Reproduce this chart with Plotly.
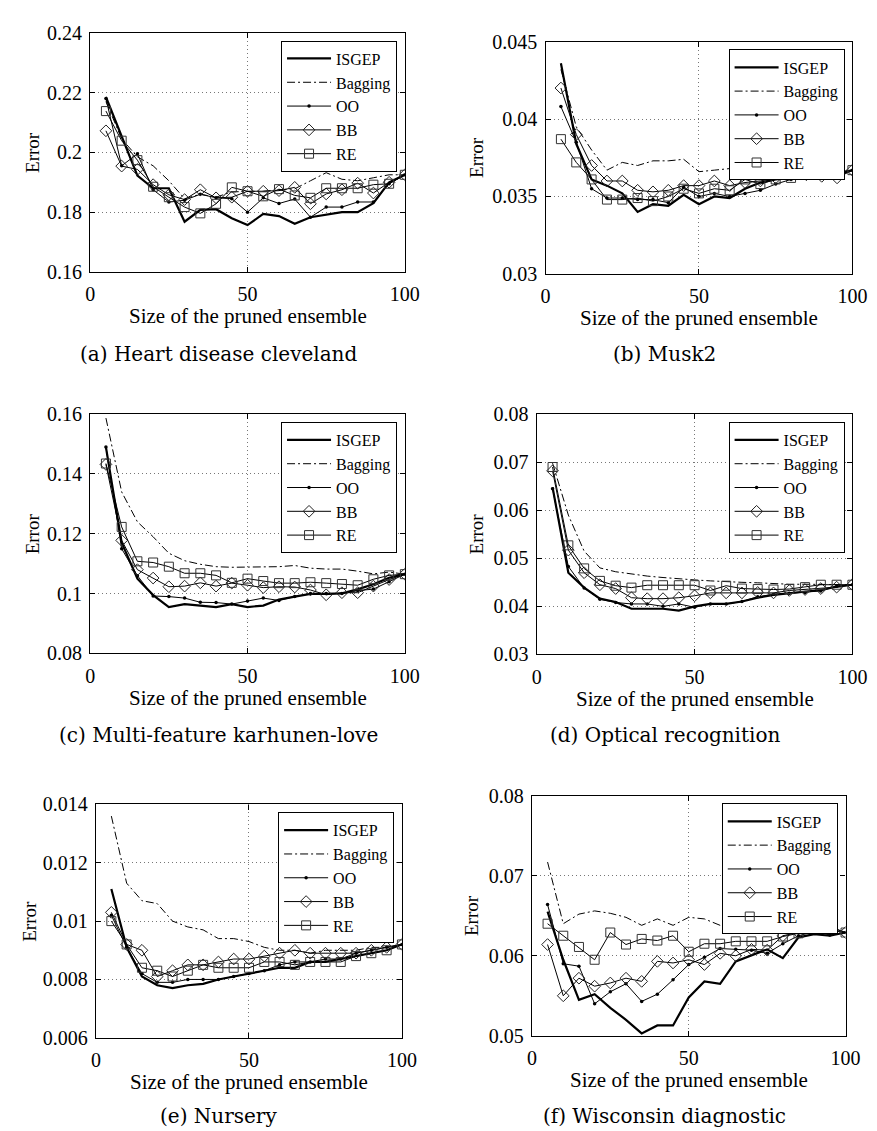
import plotly.graph_objects as go

# ---------------- data ----------------
x_size = [5, 10, 15, 20, 25, 30, 35, 40, 45, 50, 55, 60, 65, 70, 75, 80, 85, 90, 95, 100]
series_names = ["ISGEP", "Bagging", "OO", "BB", "RE"]

a_isgep = [0.2185, 0.2055, 0.1922, 0.188, 0.188, 0.1768, 0.1808, 0.181, 0.178, 0.1757, 0.1794, 0.1787, 0.1761, 0.1783, 0.1792, 0.180, 0.180, 0.183, 0.190, 0.1925]
a_bag = [0.217, 0.2045, 0.1985, 0.1955, 0.1905, 0.1845, 0.186, 0.185, 0.1868, 0.187, 0.187, 0.1875, 0.1878, 0.1905, 0.1932, 0.191, 0.1905, 0.1915, 0.1925, 0.1925]
a_oo = [0.218, 0.1955, 0.1995, 0.1875, 0.1834, 0.184, 0.186, 0.1848, 0.1845, 0.180, 0.1848, 0.1829, 0.1844, 0.1783, 0.1817, 0.1817, 0.1834, 0.1834, 0.1895, 0.1925]
a_bb = [0.2072, 0.1954, 0.1943, 0.1892, 0.1858, 0.1842, 0.1875, 0.1848, 0.185, 0.187, 0.187, 0.1872, 0.1883, 0.1828, 0.1861, 0.1875, 0.1897, 0.1864, 0.190, 0.1925]
a_re = [0.2138, 0.2039, 0.1974, 0.1885, 0.185, 0.1817, 0.1796, 0.1828, 0.1883, 0.187, 0.1853, 0.1877, 0.1856, 0.1848, 0.188, 0.188, 0.188, 0.1892, 0.1895, 0.1925]

b_isgep = [0.0436, 0.0384, 0.0361, 0.0357, 0.0352, 0.0340, 0.0345, 0.0344, 0.0351, 0.0345, 0.0350, 0.0349, 0.0355, 0.0359, 0.0361, 0.0362, 0.0363, 0.0364, 0.0364, 0.0367]
b_bag = [0.0432, 0.0395, 0.0380, 0.0367, 0.0372, 0.0370, 0.0373, 0.0373, 0.0374, 0.0366, 0.0367, 0.0368, 0.0367, 0.0365, 0.0368, 0.0365, 0.0367, 0.0367, 0.0366, 0.0367]
b_oo = [0.0408, 0.0385, 0.0355, 0.0349, 0.0349, 0.0348, 0.0348, 0.0346, 0.0356, 0.0350, 0.0352, 0.0350, 0.0352, 0.0354, 0.0358, 0.0361, 0.0362, 0.0363, 0.0364, 0.0367]
b_bb = [0.0420, 0.0390, 0.0370, 0.0360, 0.0360, 0.0354, 0.0353, 0.0354, 0.0357, 0.0357, 0.0360, 0.0357, 0.0359, 0.0360, 0.0362, 0.0364, 0.0364, 0.0363, 0.0362, 0.0367]
b_re = [0.0387, 0.0372, 0.0361, 0.0348, 0.0348, 0.0349, 0.0347, 0.0350, 0.0355, 0.0352, 0.0355, 0.0354, 0.0361, 0.0358, 0.0361, 0.0362, 0.0367, 0.0366, 0.0366, 0.0367]

c_isgep = [0.149, 0.117, 0.105, 0.0995, 0.0955, 0.0965, 0.096, 0.0955, 0.0965, 0.0955, 0.096, 0.098, 0.099, 0.0999, 0.0999, 0.1001, 0.1014, 0.1031, 0.1053, 0.1065]
c_bag = [0.1587, 0.134, 0.124, 0.119, 0.1135, 0.111, 0.1098, 0.109, 0.1088, 0.1088, 0.1088, 0.109, 0.1094, 0.1085, 0.1082, 0.1082, 0.1075, 0.1066, 0.1072, 0.1065]
c_oo = [0.149, 0.115, 0.106, 0.0992, 0.099, 0.0985, 0.0971, 0.097, 0.0965, 0.0975, 0.0985, 0.0977, 0.099, 0.100, 0.100, 0.100, 0.101, 0.1015, 0.104, 0.1065]
c_bb = [0.1432, 0.1178, 0.108, 0.1052, 0.1023, 0.1025, 0.1036, 0.1025, 0.1035, 0.1028, 0.102, 0.1023, 0.1022, 0.1012, 0.0996, 0.1003, 0.1003, 0.1025, 0.1047, 0.1065]
c_re = [0.1435, 0.1223, 0.1108, 0.1104, 0.109, 0.1068, 0.1068, 0.1061, 0.1036, 0.105, 0.1042, 0.1035, 0.1035, 0.1038, 0.1035, 0.1032, 0.1028, 0.1048, 0.1061, 0.1065]

d_isgep = [0.0648, 0.0470, 0.0439, 0.0416, 0.0409, 0.0395, 0.0395, 0.0395, 0.0391, 0.0400, 0.0405, 0.0405, 0.0410, 0.0418, 0.0424, 0.0427, 0.0431, 0.0434, 0.0441, 0.0445]
d_bag = [0.0698, 0.0590, 0.0515, 0.0480, 0.0472, 0.0467, 0.0463, 0.0460, 0.0457, 0.0455, 0.0453, 0.0451, 0.0450, 0.0449, 0.0447, 0.0446, 0.0446, 0.0446, 0.0445, 0.0445]
d_oo = [0.0645, 0.0483, 0.0438, 0.0415, 0.0408, 0.0405, 0.0405, 0.0400, 0.0405, 0.0398, 0.0405, 0.0405, 0.0410, 0.0420, 0.0425, 0.0427, 0.0429, 0.0432, 0.0442, 0.0445]
d_bb = [0.0682, 0.0517, 0.0470, 0.0445, 0.0437, 0.0418, 0.0416, 0.0416, 0.0418, 0.0422, 0.0428, 0.0428, 0.0428, 0.0429, 0.0428, 0.0433, 0.0435, 0.0437, 0.0440, 0.0445]
d_re = [0.0690, 0.0527, 0.0479, 0.0453, 0.0443, 0.0439, 0.0444, 0.0444, 0.0444, 0.0444, 0.0433, 0.0443, 0.0437, 0.0436, 0.0435, 0.0436, 0.0440, 0.0445, 0.0445, 0.0445]

e_isgep = [0.0111, 0.0091, 0.0081, 0.0078, 0.0077, 0.0078, 0.00785, 0.0080, 0.0081, 0.0082, 0.0083, 0.0084, 0.0084, 0.0086, 0.0086, 0.0087, 0.0088, 0.0089, 0.0090, 0.0092]
e_bag = [0.0136, 0.0113, 0.0107, 0.0106, 0.0100, 0.0098, 0.0097, 0.0094, 0.0094, 0.0093, 0.0091, 0.0090, 0.0090, 0.0089, 0.0090, 0.0090, 0.0090, 0.0091, 0.0091, 0.0092]
e_oo = [0.0102, 0.0091, 0.0082, 0.0079, 0.0079, 0.0080, 0.0080, 0.0080, 0.0081, 0.0082, 0.0083, 0.0085, 0.0086, 0.0086, 0.0087, 0.0087, 0.0089, 0.0090, 0.0091, 0.0092]
e_bb = [0.0103, 0.0092, 0.0090, 0.0081, 0.0083, 0.0085, 0.0085, 0.0086, 0.0087, 0.0087, 0.0088, 0.0089, 0.0090, 0.0089, 0.0089, 0.0089, 0.0089, 0.0090, 0.0091, 0.0092]
e_re = [0.0100, 0.0092, 0.0084, 0.0083, 0.0081, 0.0083, 0.0085, 0.0084, 0.0084, 0.0084, 0.0086, 0.0086, 0.0085, 0.0086, 0.0086, 0.0086, 0.0088, 0.0089, 0.0090, 0.0092]

f_isgep = [0.0655, 0.0595, 0.0545, 0.0552, 0.0535, 0.0520, 0.0503, 0.0513, 0.0513, 0.0548, 0.0568, 0.0565, 0.0593, 0.0601, 0.0608, 0.0597, 0.0623, 0.0627, 0.0625, 0.0629]
f_bag = [0.0717, 0.0640, 0.0652, 0.0656, 0.0653, 0.0648, 0.0638, 0.0646, 0.0638, 0.0648, 0.0646, 0.0638, 0.0636, 0.0643, 0.0638, 0.0632, 0.0633, 0.0634, 0.0632, 0.0629]
f_oo = [0.0664, 0.0590, 0.0587, 0.0540, 0.0555, 0.0565, 0.0543, 0.0552, 0.0570, 0.0589, 0.0598, 0.0609, 0.0608, 0.0607, 0.0603, 0.0615, 0.0625, 0.0630, 0.0626, 0.0629]
f_bb = [0.0614, 0.0550, 0.0572, 0.0562, 0.0566, 0.0572, 0.0568, 0.0593, 0.0591, 0.0595, 0.0589, 0.0603, 0.0600, 0.0608, 0.0607, 0.0625, 0.0629, 0.0636, 0.0636, 0.0629]
f_re = [0.0640, 0.0625, 0.0611, 0.0595, 0.0629, 0.0614, 0.0621, 0.0619, 0.0625, 0.0605, 0.0615, 0.0615, 0.0618, 0.0618, 0.0618, 0.0624, 0.0628, 0.0636, 0.0636, 0.0629]

x_ticks = [0, 50, 100]
a_yticks = [0.16, 0.18, 0.20, 0.22, 0.24]
a_ylabels = ["0.16", "0.18", "0.2", "0.22", "0.24"]
b_yticks = [0.030, 0.035, 0.040, 0.045]
b_ylabels = ["0.03", "0.035", "0.04", "0.045"]
c_yticks = [0.08, 0.10, 0.12, 0.14, 0.16]
c_ylabels = ["0.08", "0.1", "0.12", "0.14", "0.16"]
d_yticks = [0.03, 0.04, 0.05, 0.06, 0.07, 0.08]
d_ylabels = ["0.03", "0.04", "0.05", "0.06", "0.07", "0.08"]
e_yticks = [0.006, 0.008, 0.010, 0.012, 0.014]
e_ylabels = ["0.006", "0.008", "0.01", "0.012", "0.014"]
f_yticks = [0.05, 0.06, 0.07, 0.08]
f_ylabels = ["0.05", "0.06", "0.07", "0.08"]

captions = ["(a) Heart disease cleveland", "(b) Musk2", "(c) Multi-feature karhunen-love",
            "(d) Optical recognition", "(e) Nursery", "(f) Wisconsin diagnostic"]
x_title = "Size of the pruned ensemble"
y_title = "Error"

panel_data = [
    (a_isgep, a_bag, a_oo, a_bb, a_re, a_yticks, a_ylabels),
    (b_isgep, b_bag, b_oo, b_bb, b_re, b_yticks, b_ylabels),
    (c_isgep, c_bag, c_oo, c_bb, c_re, c_yticks, c_ylabels),
    (d_isgep, d_bag, d_oo, d_bb, d_re, d_yticks, d_ylabels),
    (e_isgep, e_bag, e_oo, e_bb, e_re, e_yticks, e_ylabels),
    (f_isgep, f_bag, f_oo, f_bb, f_re, f_yticks, f_ylabels),
]

# ---------------- layout (pixels) ----------------
W, H = 877, 1131
# axes box: left, right, top, bottom ; y-title x ; caption x
boxes = [
    (79, 401, 14, 258, 20, 210),
    (545, 859, 23, 260, 475, 667),
    (79, 401, 403, 647, 20, 210),
    (536, 859, 403, 648, 474, 667),
    (85, 398, 801, 1039, 16, 210),
    (531, 852, 792, 1037, 469, 667),
]
caption_y = [342, 342, 730, 730, 1119, 1119]

SERIF = "Liberation Serif, Times New Roman, Times, serif"
CAP_FONT = "DejaVu Serif, serif"

styles = [
    dict(mode="lines", line=dict(color="black", width=2.2)),
    dict(mode="lines", line=dict(color="black", width=1, dash="8px,3px,2px,3px")),
    dict(mode="lines+markers", line=dict(color="black", width=1),
         marker=dict(symbol="circle", size=3.5, color="black")),
    dict(mode="lines+markers", line=dict(color="black", width=1),
         marker=dict(symbol="diamond-open", size=9, color="#222", line=dict(width=1, color="#222"))),
    dict(mode="lines+markers", line=dict(color="black", width=1),
         marker=dict(symbol="square-open", size=9, color="#333", line=dict(width=1, color="#333"))),
]

fig = go.Figure()
layout = dict(width=W, height=H, margin=dict(l=0, r=0, t=0, b=0),
              paper_bgcolor="white", plot_bgcolor="white", showlegend=True,
              annotations=[])

def px(p):
    return p / W

def py(p):
    return 1 - p / H

for i, (pdata, box) in enumerate(zip(panel_data, boxes)):
    n = i + 1
    sfx = "" if n == 1 else str(n)
    L, R, T, B, ytx, capx = box
    yticks, ylabels = pdata[5], pdata[6]
    legname = "legend" + sfx
    for s, (name, yvals) in enumerate(zip(series_names, pdata[:5])):
        fig.add_trace(go.Scatter(x=x_size, y=yvals, name=name, xaxis="x" + sfx, yaxis="y" + sfx,
                                 legend=legname, **styles[s]))
    axis_common = dict(showline=True, linecolor="black", linewidth=1.4, mirror="ticks",
                       ticks="inside", ticklen=5, tickcolor="black", tickwidth=1,
                       showgrid=True, gridcolor="#777", griddash="1px,3px", gridwidth=1,
                       zeroline=False, tickfont=dict(family=SERIF, size=20, color="black"))
    layout["xaxis" + sfx] = dict(domain=[px(L), px(R)], anchor="y" + sfx, range=[0, 100],
                                 tickmode="array", tickvals=x_ticks,
                                 ticktext=[str(v) for v in x_ticks], ticklabelstandoff=4,
                                 **axis_common)
    layout["yaxis" + sfx] = dict(domain=[py(B), py(T)], anchor="x" + sfx,
                                 range=[yticks[0], yticks[-1]],
                                 tickmode="array", tickvals=yticks, ticktext=ylabels,
                                 ticklabelstandoff=3, **axis_common)
    layout[legname] = dict(x=px(R - 8), y=py(T + 8), xanchor="right", yanchor="top",
                           xref="paper", yref="paper",
                           bgcolor="white", bordercolor="black", borderwidth=1,
                           font=dict(family=SERIF, size=16, color="black"),
                           tracegroupgap=0, itemwidth=44)
    layout["annotations"] += [
        dict(text=x_title, xref="paper", yref="paper", x=px((L + R) / 2), y=py(B + 45),
             showarrow=False, xanchor="center", yanchor="middle",
             font=dict(family=SERIF, size=21, color="black")),
        dict(text=y_title, xref="paper", yref="paper", x=px(ytx), y=py((T + B) / 2),
             showarrow=False, xanchor="center", yanchor="middle", textangle=-90,
             font=dict(family=SERIF, size=19, color="black")),
        dict(text=captions[i], xref="paper", yref="paper", x=px(capx), y=py(caption_y[i]),
             showarrow=False, xanchor="center", yanchor="middle",
             font=dict(family=CAP_FONT, size=20, color="black")),
    ]

fig.update_layout(**layout)
fig.write_html("out.html")
